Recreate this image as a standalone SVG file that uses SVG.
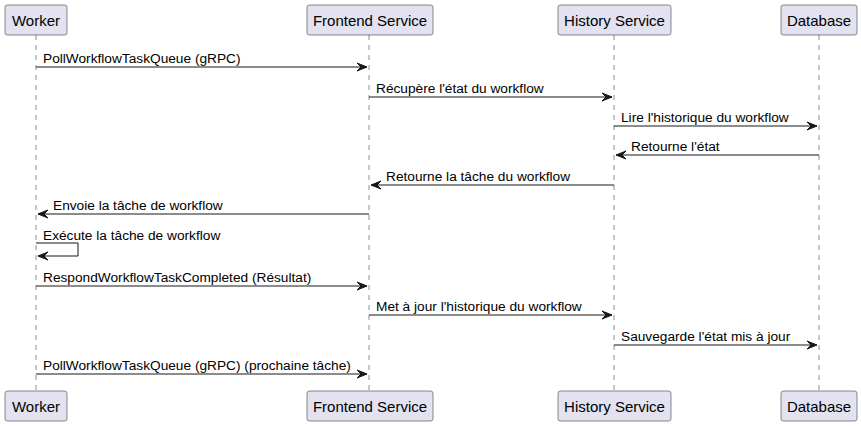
<svg xmlns="http://www.w3.org/2000/svg" width="861" height="426" viewBox="0 0 861 426">
<style>
.box{fill:#E2E2F0;stroke:#181818;stroke-width:0.5}
.pt{font-family:"Liberation Sans",Arial,sans-serif;font-size:15px;fill:#000;text-anchor:middle}
.life{stroke:#181818;stroke-width:0.5;stroke-dasharray:5,5;fill:none}
.msg{stroke:#181818;stroke-width:1;fill:none}
.head{fill:#181818;stroke:#181818;stroke-width:1}
.mt{font-family:"Liberation Sans",Arial,sans-serif;font-size:13.7px;fill:#000}
</style>
<rect width="861" height="426" fill="#FFFFFF"/>
<g id="lifelines">
<line class="life" x1="36" y1="35" x2="36" y2="391"/>
<line class="life" x1="369" y1="35" x2="369" y2="391"/>
<line class="life" x1="614" y1="35" x2="614" y2="391"/>
<line class="life" x1="819" y1="35" x2="819" y2="391"/>
</g>
<g id="worker">
<rect class="box" x="5" y="5" width="62" height="30" rx="2.5"/>
<text class="pt" x="36" y="25.5">Worker</text>
<rect class="box" x="5" y="391" width="62" height="30" rx="2.5"/>
<text class="pt" x="36" y="411.5">Worker</text>
</g>
<g id="frontend">
<rect class="box" x="307" y="5" width="126" height="30" rx="2.5"/>
<text class="pt" x="370" y="25.5">Frontend Service</text>
<rect class="box" x="307" y="391" width="126" height="30" rx="2.5"/>
<text class="pt" x="370" y="411.5">Frontend Service</text>
</g>
<g id="history">
<rect class="box" x="558" y="5" width="113" height="30" rx="2.5"/>
<text class="pt" x="614.5" y="25.5">History Service</text>
<rect class="box" x="558" y="391" width="113" height="30" rx="2.5"/>
<text class="pt" x="614.5" y="411.5">History Service</text>
</g>
<g id="database">
<rect class="box" x="781" y="5" width="76" height="30" rx="2.5"/>
<text class="pt" x="819" y="25.5">Database</text>
<rect class="box" x="781" y="391" width="76" height="30" rx="2.5"/>
<text class="pt" x="819" y="411.5">Database</text>
</g>
<g id="connectors">
<line class="msg" x1="36" y1="67" x2="367" y2="67"/>
<polygon class="head" points="357,63 367,67 357,71 361,67"/>
<text class="mt" x="43" y="63">PollWorkflowTaskQueue (gRPC)</text>

<line class="msg" x1="369" y1="97" x2="612" y2="97"/>
<polygon class="head" points="602,93 612,97 602,101 606,97"/>
<text class="mt" x="376" y="93">Récupère l'état du workflow</text>

<line class="msg" x1="614" y1="126" x2="817" y2="126"/>
<polygon class="head" points="807,122 817,126 807,130 811,126"/>
<text class="mt" x="621" y="122">Lire l'historique du workflow</text>

<line class="msg" x1="616" y1="155" x2="819" y2="155"/>
<polygon class="head" points="626,151 616,155 626,159 622,155"/>
<text class="mt" x="631" y="151">Retourne l'état</text>

<line class="msg" x1="371" y1="185" x2="614" y2="185"/>
<polygon class="head" points="381,181 371,185 381,189 377,185"/>
<text class="mt" x="386" y="181">Retourne la tâche du workflow</text>

<line class="msg" x1="38" y1="214" x2="369" y2="214"/>
<polygon class="head" points="48,210 38,214 48,218 44,214"/>
<text class="mt" x="53" y="210">Envoie la tâche de workflow</text>

<polyline class="msg" points="36,243 78,243 78,256 38,256"/>
<polygon class="head" points="48,252 38,256 48,260 44,256"/>
<text class="mt" x="43" y="239.5">Exécute la tâche de workflow</text>

<line class="msg" x1="36" y1="286" x2="367" y2="286"/>
<polygon class="head" points="357,282 367,286 357,290 361,286"/>
<text class="mt" x="43" y="282">RespondWorkflowTaskCompleted (Résultat)</text>

<line class="msg" x1="369" y1="315" x2="612" y2="315"/>
<polygon class="head" points="602,311 612,315 602,319 606,315"/>
<text class="mt" x="376" y="311">Met à jour l'historique du workflow</text>

<line class="msg" x1="614" y1="345" x2="817" y2="345"/>
<polygon class="head" points="807,341 817,345 807,349 811,345"/>
<text class="mt" x="621" y="341">Sauvegarde l'état mis à jour</text>

<line class="msg" x1="36" y1="374" x2="367" y2="374"/>
<polygon class="head" points="357,370 367,374 357,378 361,374"/>
<text class="mt" x="43" y="370">PollWorkflowTaskQueue (gRPC) (prochaine tâche)</text>
</g>
</svg>
